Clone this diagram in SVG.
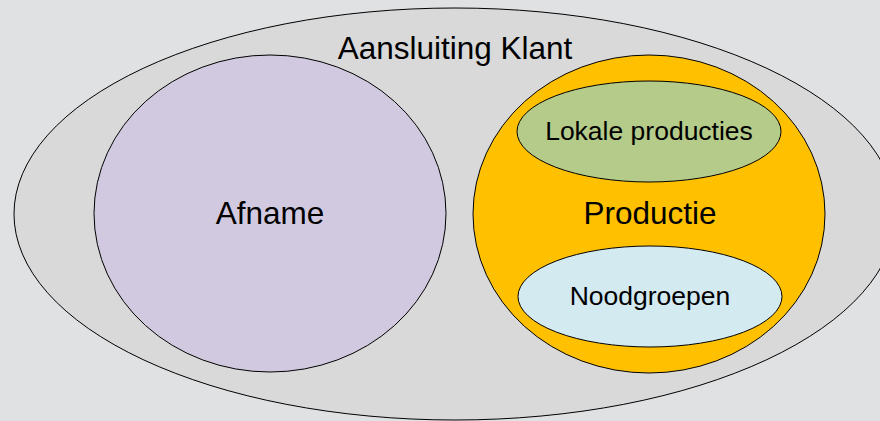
<svg xmlns="http://www.w3.org/2000/svg" width="880" height="421" viewBox="0 0 880 421">
<style>
.s{stroke:#000;stroke-width:1}
.t{font-family:"Liberation Sans",Arial,sans-serif;fill:#000;text-anchor:middle}
</style>
<rect width="880" height="421" fill="#e0e1e3"/>
<g id="aansluiting">
<ellipse class="s" cx="455" cy="214" rx="441" ry="206" fill="#d9d9d9"/>
<text class="t" x="455" y="59" font-size="31.5">Aansluiting Klant</text>
</g>
<g id="afname">
<ellipse class="s" cx="270" cy="213.5" rx="176" ry="158.5" fill="#d1c9df"/>
<text class="t" x="270" y="224" font-size="31.5">Afname</text>
</g>
<g id="productie">
<ellipse class="s" cx="649" cy="214" rx="176" ry="159" fill="#ffc000"/>
<text class="t" x="650" y="224" font-size="31.5">Productie</text>
</g>
<g id="lokale">
<ellipse class="s" cx="649" cy="131.5" rx="132" ry="50.5" fill="#b4cb8a"/>
<text class="t" x="649" y="140" font-size="26.5">Lokale producties</text>
</g>
<g id="noodgroepen">
<ellipse class="s" cx="650" cy="296.5" rx="132" ry="50.5" fill="#d3eaf0"/>
<text class="t" x="650" y="305" font-size="26.5">Noodgroepen</text>
</g>
<g id="connectors"/>
</svg>
